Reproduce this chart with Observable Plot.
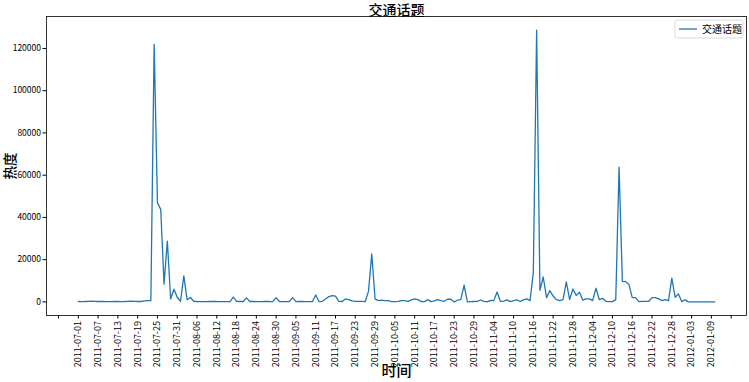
<!DOCTYPE html>
<html>
<head>
<meta charset="utf-8">
<script src="https://cdn.jsdelivr.net/npm/d3@7"></script>
<script src="https://cdn.jsdelivr.net/npm/@observablehq/plot@0.6"></script>
<style>
  html, body { margin: 0; padding: 0; background: #fff; }
  #chart { width: 749px; height: 382px; }
</style>
</head>
<body>
<div id="chart"></div>
<script>
// ---- data ----
const seriesName = "交通话题";
const startDate = "2011-07-01"; // first day of the daily series
const values = [
  200,150,200,300,400,300,200,300,200,150,150,200,200,150,200,300,400,300,200,200,500,600,600,
  121900,46900,43800,8400,28800,1400,6000,2200,300,12300,1000,2100,300,
  200,150,100,100,200,300,200,150,100,100,150,2300,300,200,200,1900,200,200,150,150,200,300,200,150,2000,200,100,100,200,2000,150,300,200,100,150,200,
  3300,100,300,1400,2500,3000,2700,300,200,1400,1100,500,300,300,300,100,5000,22700,
  1400,600,800,600,600,150,150,300,600,600,300,950,1400,1100,150,150,1100,150,500,1100,600,300,1250,1250,0,800,1100,7900,
  0,100,200,300,900,300,0,700,600,4700,300,400,950,150,600,950,200,1000,1400,600,14000,128700,
  5500,11800,2000,5350,2800,1100,600,1100,9450,1100,6140,3000,4570,800,1400,1400,600,6450,1100,1700,300,150,150,1100,
  63800,9760,9600,8200,2050,2050,150,300,300,300,2050,2050,1400,600,1100,600,11300,2200,3800,150,950,0,
  0,0,0,0,0,0,0,0
];
const yTicks = [0, 20000, 40000, 60000, 80000, 100000, 120000];
const tickStart = "2011-06-25";   // x ticks every 6 days
const tickStepDays = 6;
const labelFirst = "2011-07-01";
const labelLast = "2012-01-09";
const titleText = "交通话题";
const xLabel = "时间";
const yLabel = "热度";

// ---- build table ----
const t0 = new Date(startDate);
const data = values.map((v, i) => ({date: d3.utcDay.offset(t0, i), value: v}));
const first = data[0].date, last = data[data.length - 1].date;
const span = last - first;
const xDomain = [new Date(+first - span * 0.05), new Date(+last + span * 0.05)];
const yMax = d3.max(values), yMin = d3.min(values);
const yPad = (yMax - yMin) * 0.05;
const yDomain = [yMin - yPad, yMax + yPad];

const xTicks = [];
for (let d = new Date(tickStart); d <= xDomain[1]; d = d3.utcDay.offset(d, tickStepDays)) xTicks.push(d);
const lf = new Date(labelFirst), ll = new Date(labelLast);
const fmt = d3.utcFormat("%Y-%m-%d");

const font = "'Noto Sans CJK SC', 'Noto Sans', sans-serif";
const color = "#1f77b4";

const chart = Plot.plot({
  width: 749,
  height: 382,
  marginLeft: 46,
  marginRight: 3,
  marginTop: 16,
  marginBottom: 67,
  style: {fontFamily: font, fontSize: "9px", color: "#000", background: "#fff"},
  x: {type: "utc", domain: xDomain},
  y: {domain: yDomain},
  marks: [
    Plot.axisX({ticks: xTicks, tickFormat: d => (d >= lf && d <= ll) ? fmt(d) : "", tickRotate: -90,
      tickSize: 3.5, tickPadding: 2, label: null, fontSize: 9}),
    Plot.axisY({ticks: yTicks, tickFormat: d => String(d), tickSize: 3.5, tickPadding: 2, label: null, fontSize: 8.5}),
    Plot.line(data, {x: "date", y: "value", stroke: color, strokeWidth: 1.3}),
    Plot.frame({stroke: "#000", strokeWidth: 0.8}),
    Plot.text([titleText], {text: d => d, frameAnchor: "top", dy: -6, lineAnchor: "middle", textAnchor: "middle", fontSize: 14, fontWeight: 500}),
    Plot.text([yLabel], {text: d => d, frameAnchor: "left", dx: -35.5, rotate: -90, lineAnchor: "middle", textAnchor: "middle", fontSize: 13.5, fontWeight: 500}),
    Plot.text([xLabel], {text: d => d, frameAnchor: "bottom", dy: 56, lineAnchor: "middle", textAnchor: "middle", fontSize: 15, fontWeight: 500})
  ]
});

// legend inside the top-right corner of the frame
const svg = d3.select(chart);
const lg = svg.append("g").attr("font-family", font).attr("text-anchor", "start");
lg.append("rect").attr("x", 675).attr("y", 20).attr("width", 68).attr("height", 18).attr("rx", 2)
  .attr("fill", "#fff").attr("fill-opacity", 0.8).attr("stroke", "#d0d0d0").attr("stroke-width", 0.8);
lg.append("line").attr("x1", 679).attr("x2", 697).attr("y1", 29).attr("y2", 29)
  .attr("stroke", color).attr("stroke-width", 1.3);
lg.append("text").attr("x", 702).attr("y", 29).attr("dy", "0.35em").attr("font-size", 10).attr("fill", "#000")
  .attr("text-anchor", "start").text(seriesName);

document.getElementById("chart").appendChild(chart);
</script>
</body>
</html>
